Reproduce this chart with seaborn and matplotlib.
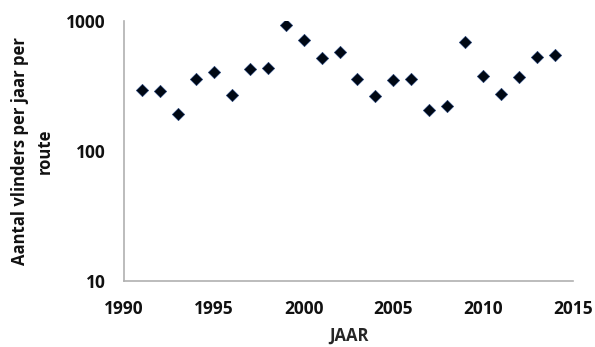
import pandas as pd
import matplotlib
matplotlib.use("Agg")
import matplotlib.pyplot as plt
import matplotlib.ticker as mticker
import seaborn as sns

# data
years = list(range(1991, 2015))
vlinders = [294, 290, 191, 358, 407, 270, 425, 437, 932, 710, 516, 574,
            358, 265, 352, 356, 207, 222, 693, 379, 273, 373, 532, 545]
x_ticks = [1990, 1995, 2000, 2005, 2010, 2015]
y_ticks = [10, 100, 1000]
y_label_lines = ["Aantal vlinders per jaar per", "route"]

df = pd.DataFrame({"JAAR": years, "vlinders": vlinders})

sns.set_style("white")
plt.rcParams['font.family'] = ['Open Sans', 'DejaVu Sans']
plt.rcParams['font.weight'] = 'bold'

fig = plt.figure(figsize=(5.95, 3.47), dpi=100)
ax = fig.add_axes([124 / 595, 1 - 281 / 347, (573 - 124) / 595, (281 - 21) / 347])

sns.scatterplot(data=df, x="JAAR", y="vlinders", marker="D", s=40,
                color="#000814", edgecolor="#1f3f7a", linewidth=0.4, ax=ax)

ax.set_yscale("log")
ax.set_ylim(10, 1000)
ax.set_xlim(1990, 2015)
ax.set_xticks(x_ticks)
ax.set_yticks(y_ticks)
ax.yaxis.set_major_formatter(mticker.FuncFormatter(lambda v, p: f"{int(v)}"))
ax.yaxis.set_minor_locator(mticker.NullLocator())

for s in ["top", "right"]:
    ax.spines[s].set_visible(False)
for s in ["left", "bottom"]:
    ax.spines[s].set_color("#b0b0b0")
    ax.spines[s].set_linewidth(1.2)

ax.tick_params(axis="both", which="major", length=5, width=1.2, color="#b0b0b0",
               labelsize=12.5, labelcolor="#111111", direction="out")
ax.tick_params(axis="x", pad=9)
ax.tick_params(axis="y", pad=8)
for lab in ax.get_xticklabels() + ax.get_yticklabels():
    lab.set_fontweight("bold")

ax.set_xlabel("JAAR", fontsize=12, fontweight="bold", labelpad=6)
ax.set_ylabel("")
# two-line y label, each line centred
for xpix, line in zip([20, 45], y_label_lines):
    fig.text(xpix / 595, 1 - 151 / 347, line, rotation=90, ha="center",
             va="center", fontsize=12, fontweight="bold", color="#111111")

fig.savefig("out.png", dpi=100)
